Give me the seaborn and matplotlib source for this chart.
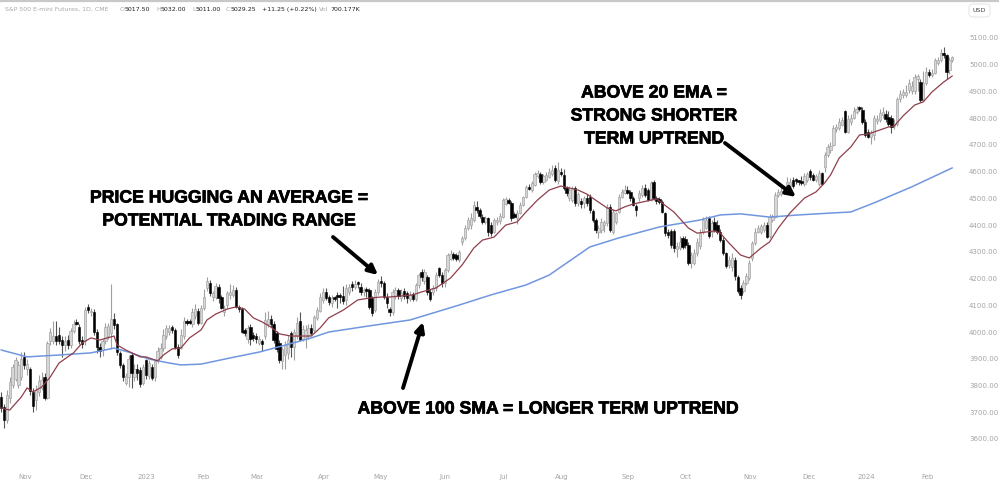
import numpy as np
import pandas as pd
import matplotlib
matplotlib.use("Agg")
import matplotlib.pyplot as plt
import matplotlib.patheffects as pe
from matplotlib.patches import FancyBboxPatch
import seaborn as sns

# daily candles, 10 per row
opens = [
    3758,3720,3670,3752,3802,3826,3802,3830,3905,3860,
    3860,3776,3745,3775,3790,3830,3752,3965,3965,3985,
    3990,3970,3950,3970,3950,4005,4038,4020,3970,3965,
    4092,4075,4076,4000,3945,3932,3965,3985,3995,4050,
    4030,3920,3875,3810,3830,3915,3830,3860,3858,3810,
    3895,3835,3870,3830,3895,3908,3940,3985,4000,4018,
    4008,3945,3940,3985,4040,4040,4030,4060,4080,4035,
    4090,4165,4182,4130,4132,4170,4132,4075,4100,4140,
    4140,4158,4092,4088,4008,3975,4020,3990,3985,3960,
    3965,3985,4030,4050,4030,3995,3960,3890,3915,3920,
    3995,3945,3985,4040,3975,3982,3990,4015,4008,4052,
    4080,4120,4150,4132,4108,4130,4138,4135,4135,4120,
    4150,4178,4170,4182,4170,4150,4160,4157,4126,4082,
    4150,4190,4182,4132,4085,4075,4133,4157,4128,4152,
    4145,4125,4142,4125,4176,4225,4190,4207,4150,4150,
    4165,4238,4213,4182,4232,4275,4292,4290,4268,4338,
    4350,4388,4400,4420,4469,4456,4432,4413,4425,4400,
    4375,4410,4415,4432,4480,4493,4482,4440,4425,4444,
    4475,4506,4543,4530,4550,4585,4591,4562,4570,4580,
    4590,4612,4565,4600,4587,4537,4500,4494,4537,4481,
    4491,4481,4500,4506,4454,4419,4375,4382,4400,4406,
    4469,4375,4412,4450,4506,4520,4533,4522,4500,4470,
    4500,4512,4537,4531,4494,4563,4500,4495,4487,4444,
    4375,4379,4379,4310,4313,4350,4348,4325,4257,4257,
    4295,4320,4376,4390,4425,4376,4413,4400,4376,4345,
    4295,4250,4245,4270,4205,4164,4152,4183,4201,4276,
    4332,4376,4376,4382,4400,4360,4420,4432,4513,4515,
    4520,4538,4545,4567,4570,4563,4563,4554,4570,4603,
    4587,4570,4554,4594,4617,4662,4680,4700,4760,4762,
    4775,4825,4750,4785,4800,4823,4838,4830,4787,4750,
    4730,4737,4790,4793,4810,4815,4805,4800,4770,4780,
    4870,4885,4885,4905,4900,4900,4945,4936,4870,4930,
    4973,4960,4970,5005,5017,5042,5035,4980,5017,
]
closes = [
    3714,3670,3764,3814,3870,3895,3877,3900,3875,3880,
    3780,3725,3782,3815,3820,3752,3958,4000,3985,3965,
    3965,3950,3965,3950,4005,4030,4030,3965,3955,4082,
    4082,4080,4000,3945,3930,3965,4020,4022,4050,4025,
    3925,3875,3833,3835,3900,3845,3860,3845,3806,3870,
    3840,3885,3827,3890,3930,3940,3990,4014,4015,4008,
    3945,3915,3990,4040,4035,4032,4075,4085,4035,4090,
    4132,4190,4145,4145,4172,4126,4090,4090,4145,4148,
    4158,4095,4085,4000,3998,4015,3975,3978,3975,3975,
    3955,4045,4050,4030,3970,3935,3895,3935,3952,3970,
    3945,4000,4035,3970,4010,4007,4015,3998,4058,4082,
    4132,4150,4127,4113,4127,4122,4132,4130,4115,4163,
    4170,4168,4180,4178,4150,4158,4152,4095,4070,4150,
    4188,4182,4132,4107,4075,4150,4157,4133,4145,4133,
    4127,4140,4122,4176,4213,4205,4225,4150,4125,4165,
    4213,4213,4182,4232,4288,4292,4278,4273,4300,4350,
    4388,4420,4425,4475,4456,4434,4413,4425,4375,4369,
    4418,4420,4434,4494,4496,4482,4425,4430,4447,4475,
    4506,4543,4535,4556,4590,4593,4562,4582,4587,4600,
    4605,4569,4606,4590,4537,4520,4531,4537,4481,4518,
    4479,4500,4481,4456,4419,4382,4390,4413,4410,4469,
    4382,4450,4444,4506,4525,4531,4520,4500,4475,4456,
    4520,4537,4512,4494,4556,4500,4491,4488,4450,4369,
    4363,4325,4313,4320,4338,4319,4325,4257,4290,4295,
    4338,4369,4420,4420,4358,4407,4382,4376,4345,4297,
    4247,4270,4276,4208,4152,4139,4183,4208,4257,4332,
    4376,4388,4395,4400,4357,4432,4432,4513,4525,4528,
    4527,4563,4560,4547,4564,4560,4557,4582,4592,4580,
    4570,4582,4594,4555,4662,4692,4697,4762,4767,4786,
    4793,4750,4798,4800,4825,4836,4833,4787,4737,4730,
    4745,4800,4798,4818,4824,4795,4780,4768,4780,4870,
    4892,4899,4899,4930,4920,4955,4957,4868,4930,4973,
    4961,4970,5017,5018,5042,5035,4973,5017,5029,
]
highs = [
    3775,3730,3785,3830,3880,3905,3890,3925,3925,3900,
    3870,3790,3800,3840,3850,3845,3965,4015,4040,4040,
    4020,3985,3985,3990,4015,4045,4050,4030,3985,4095,
    4105,4090,4085,4010,3960,3975,4035,4035,4180,4070,
    4035,3930,3885,3845,3915,3920,3880,3880,3870,3880,
    3900,3895,3880,3895,3945,3960,4010,4025,4025,4025,
    4015,3955,4010,4055,4050,4048,4090,4105,4090,4100,
    4160,4205,4195,4155,4185,4180,4140,4100,4155,4180,
    4175,4170,4100,4095,4015,4025,4030,4000,3995,3985,
    3975,4075,4080,4065,4040,4005,3970,3945,3965,3990,
    4005,4010,4055,4075,4025,4025,4030,4030,4065,4095,
    4145,4165,4165,4140,4140,4135,4150,4145,4172,4180,
    4180,4190,4195,4190,4185,4165,4170,4165,4135,4160,
    4200,4210,4190,4145,4095,4160,4170,4165,4160,4165,
    4155,4155,4150,4185,4220,4235,4235,4215,4160,4175,
    4225,4245,4225,4240,4295,4305,4300,4295,4305,4360,
    4400,4430,4445,4490,4490,4465,4440,4435,4430,4410,
    4425,4430,4445,4500,4505,4500,4490,4450,4455,4485,
    4510,4550,4555,4565,4600,4605,4600,4590,4600,4615,
    4625,4625,4635,4615,4610,4545,4545,4545,4545,4525,
    4500,4510,4515,4515,4460,4425,4400,4425,4420,4480,
    4480,4460,4450,4515,4535,4550,4545,4530,4510,4478,
    4530,4550,4552,4540,4565,4570,4510,4505,4495,4450,
    4385,4385,4385,4335,4360,4360,4360,4335,4300,4310,
    4350,4385,4430,4435,4435,4420,4430,4420,4385,4355,
    4300,4285,4295,4280,4215,4175,4195,4220,4270,4340,
    4390,4400,4405,4412,4410,4440,4440,4525,4535,4545,
    4535,4580,4575,4580,4578,4570,4585,4595,4600,4610,
    4595,4590,4605,4600,4675,4705,4710,4775,4780,4800,
    4805,4830,4810,4815,4840,4845,4845,4840,4795,4760,
    4755,4810,4810,4835,4840,4830,4825,4810,4795,4880,
    4905,4910,4925,4945,4940,4965,4965,4945,4975,4990,
    4985,4985,5025,5030,5060,5067,5040,5030,5032,
]
lows = [
    3700,3640,3660,3735,3790,3815,3790,3820,3860,3840,
    3765,3700,3710,3760,3785,3745,3750,3950,3955,3950,
    3955,3905,3930,3935,3940,3995,4025,3955,3940,3950,
    4070,4060,3990,3920,3905,3910,3955,3975,3935,4010,
    3915,3865,3815,3800,3795,3790,3815,3820,3795,3800,
    3825,3825,3820,3815,3885,3900,3930,3975,3990,3995,
    3935,3902,3935,3975,4025,4030,4020,4050,4025,4030,
    4082,4155,4135,4115,4125,4110,4085,4060,4090,4125,
    4130,4090,4075,3995,3985,3960,3950,3965,3960,3950,
    3930,3975,4020,4020,3960,3925,3885,3860,3860,3900,
    3905,3895,3975,3965,3965,3940,3975,3990,4000,4045,
    4075,4110,4120,4100,4095,4115,4090,4110,4105,4100,
    4140,4155,4160,4165,4140,4135,4130,4085,4060,4075,
    4140,4170,4125,4090,4060,4065,4125,4125,4115,4125,
    4110,4115,4115,4115,4165,4190,4180,4140,4115,4140,
    4155,4205,4170,4170,4225,4270,4270,4265,4262,4325,
    4345,4380,4385,4410,4445,4425,4405,4405,4360,4360,
    4370,4400,4405,4425,4475,4478,4415,4425,4405,4440,
    4470,4500,4530,4525,4545,4575,4555,4555,4565,4575,
    4585,4560,4555,4585,4530,4510,4490,4485,4470,4470,
    4465,4465,4470,4445,4410,4370,4350,4370,4375,4395,
    4375,4365,4405,4445,4500,4515,4515,4490,4470,4435,
    4490,4505,4505,4490,4490,4495,4480,4480,4445,4360,
    4350,4315,4300,4280,4305,4310,4315,4250,4240,4250,
    4285,4310,4365,4385,4350,4355,4375,4365,4335,4290,
    4240,4240,4230,4195,4145,4125,4145,4175,4195,4265,
    4325,4370,4368,4375,4350,4350,4410,4425,4505,4510,
    4515,4530,4540,4540,4555,4550,4550,4545,4562,4570,
    4565,4560,4545,4550,4600,4655,4670,4695,4750,4755,
    4770,4745,4745,4775,4795,4815,4825,4780,4730,4725,
    4705,4720,4780,4785,4800,4785,4770,4745,4760,4770,
    4860,4875,4880,4895,4890,4890,4900,4860,4865,4925,
    4955,4955,4965,5000,5010,5025,4945,4965,5011,
]

# 20 EMA and 100 SMA, sampled along the line
ema_idx = [0,3,7,9,11,14,17,20,25,28,31,34,39,40,43,48,50,54,56,59,62,65,69,71,74,78,81,84,87,90,
           93,96,100,107,110,113,118,123,127,131,134,142,145,150,155,159,163,166,170,174,178,181,185,189,193,
           199,202,206,209,212,215,218,221,226,227,232,237,240,246,248,251,255,258,262,265,268,272,277,281,284,
           286,289,293,296,299,302,306,308,311,315,318,321,325,328]
ema_val = [3716,3708,3757,3791,3776,3794,3832,3884,3922,3959,3978,3970,3985,3952,3933,3907,3907,3892,3914,3937,
           3940,3978,4008,4045,4067,4086,4094,4086,4053,4038,4019,3993,3985,3985,4015,4053,4082,4120,4127,4131,
           4131,4139,4150,4165,4202,4251,4314,4344,4355,4400,4412,4449,4494,4531,4546,4531,4516,4486,4464,4453,
           4468,4479,4486,4498,4490,4449,4389,4370,4378,4370,4333,4288,4277,4314,4337,4389,4445,4501,4524,4558,
           4587,4651,4692,4737,4741,4752,4767,4771,4808,4849,4861,4898,4935,4958]
sma_idx = [0,9,20,31,39,44,51,58,62,69,79,89,98,107,113,127,141,158,169,181,189,203,213,227,241,248,255,265,275,286,293,301,314,328]
sma_val = [3933,3907,3914,3922,3940,3925,3899,3884,3877,3880,3903,3925,3951,3978,4000,4023,4045,4101,4139,4176,
           4213,4318,4352,4393,4419,4438,4442,4430,4438,4445,4449,4483,4543,4614]

month_labels = ["Nov","Dec","2023","Feb","Mar","Apr","May","Jun","Jul","Aug","Sep","Oct","Nov","Dec","2024","Feb"]
month_pos = [8.3,29.2,50,69.7,88.3,111.4,131,153,173.4,193.4,216.2,236.2,258.3,278.6,298.3,319.3]
price_ticks = list(range(3600, 5101, 100))

W, H = 999, 482
sns.set_style("white")
plt.rcParams["font.family"] = ["Liberation Sans", "DejaVu Sans"]

fig = plt.figure(figsize=(W / 100, H / 100), dpi=100)
ax = fig.add_axes([0, 0, 1, 1])

df = pd.DataFrame({"o": opens, "h": highs, "l": lows, "c": closes})
df["i"] = np.arange(len(df))
up = df[df.c >= df.o]
down = df[df.c < df.o]

ax.vlines(up.i, up.l, up.h, color="#a0a0a0", lw=0.8, zorder=2)
ax.vlines(down.i, down.l, down.h, color="#555555", lw=0.8, zorder=2)
ax.bar(up.i, up.c - up.o, bottom=up.o, width=0.8, color="#d6d6d6", edgecolor="#a6a6a6", lw=0.5, zorder=3)
ax.bar(down.i, (down.o - down.c).clip(lower=8), bottom=down.c, width=0.8, color="black", edgecolor="black", lw=0.4, zorder=3)

sns.lineplot(x=sma_idx, y=sma_val, ax=ax, color="#7196e0", linewidth=1.1, zorder=4, errorbar=None)
sns.lineplot(x=ema_idx, y=ema_val, ax=ax, color="#8f3f4b", linewidth=0.9, zorder=5, errorbar=None)

ax.set_xlim(-0.345, 344.1)
ax.set_ylim(3439, 5242)
ax.set_xticks(month_pos)
ax.set_xticklabels(month_labels)
ax.set_yticks(price_ticks)
ax.set_yticklabels([f"{p:.2f}" for p in price_ticks])
ax.yaxis.tick_right()
ax.tick_params(axis="x", direction="in", length=0, pad=-5.6, labelsize=5.0, labelcolor="#a4a4a4")
ax.tick_params(axis="y", direction="in", length=0, pad=-21.5, labelsize=5.0, labelcolor="#a4a4a4")
for lab in ax.get_xticklabels() + ax.get_yticklabels():
    lab.set_family(["DejaVu Sans"])
for s in ax.spines.values():
    s.set_visible(False)


def fx(px):
    return px / W


def fy(py):
    return 1 - py / H


# notes on the chart
notes = [
    ("PRICE HUGGING AN AVERAGE =", 229, 198),
    ("POTENTIAL TRADING RANGE", 229, 221),
    ("ABOVE 100 SMA = LONGER TERM UPTREND", 548, 409),
    ("ABOVE 20 EMA =", 654, 93),
    ("STRONG SHORTER", 654, 116),
    ("TERM UPTREND", 654, 139),
]
for txt, px, py in notes:
    ax.text(fx(px), fy(py), txt, transform=ax.transAxes, ha="center", va="center",
            fontsize=12.7, fontweight="bold", color="black", zorder=8,
            path_effects=[pe.withStroke(linewidth=0.5, foreground="black")])

arrows = [((333, 237), (378, 275)), ((403, 388), (423, 322)), ((725, 143), (796, 197))]
for start, tip in arrows:
    ax.annotate("", xy=(fx(tip[0]), fy(tip[1])), xytext=(fx(start[0]), fy(start[1])),
                xycoords="axes fraction", textcoords="axes fraction",
                arrowprops=dict(arrowstyle="-|>,head_length=0.55,head_width=0.27", color="black", lw=2.8,
                                shrinkA=0, shrinkB=0), zorder=8)

# header row
header = [
    ("S&P 500 E-mini Futures, 1D, CME", 5, "#a8a8a8"), ("O", 120, "#a8a8a8"), ("5017.50", 125, "#222222"),
    ("H", 156, "#a8a8a8"), ("5032.00", 161, "#222222"), ("L", 192, "#a8a8a8"), ("5011.00", 196, "#222222"),
    ("C", 226, "#a8a8a8"), ("5029.25", 231, "#222222"), ("+11.25 (+0.22%)", 262, "#222222"),
    ("Vol", 319, "#a8a8a8"), ("700.177K", 330, "#222222"),
]
for txt, px, col in header:
    ax.text(fx(px), fy(9.5), txt, transform=ax.transAxes, ha="left", va="center",
            fontsize=4.5, color=col, family=["DejaVu Sans"])

# top rule and currency button
ax.plot([0, 1], [fy(1), fy(1)], transform=ax.transAxes, color="#c8c8c8", lw=1.6, zorder=9, clip_on=False)
btn = FancyBboxPatch((fx(969), fy(17)), 21 / W, 13 / H, boxstyle="round,pad=0,rounding_size=0.004",
                     transform=ax.transAxes, fc="white", ec="#e4e4e4", lw=0.7, zorder=6, mutation_aspect=2)
ax.add_patch(btn)
ax.text(fx(979.5), fy(10.5), "USD", transform=ax.transAxes, ha="center", va="center", fontsize=4.6,
        color="#444444", family=["DejaVu Sans"], zorder=7)

fig.savefig("out.png", dpi=100, facecolor="white")
